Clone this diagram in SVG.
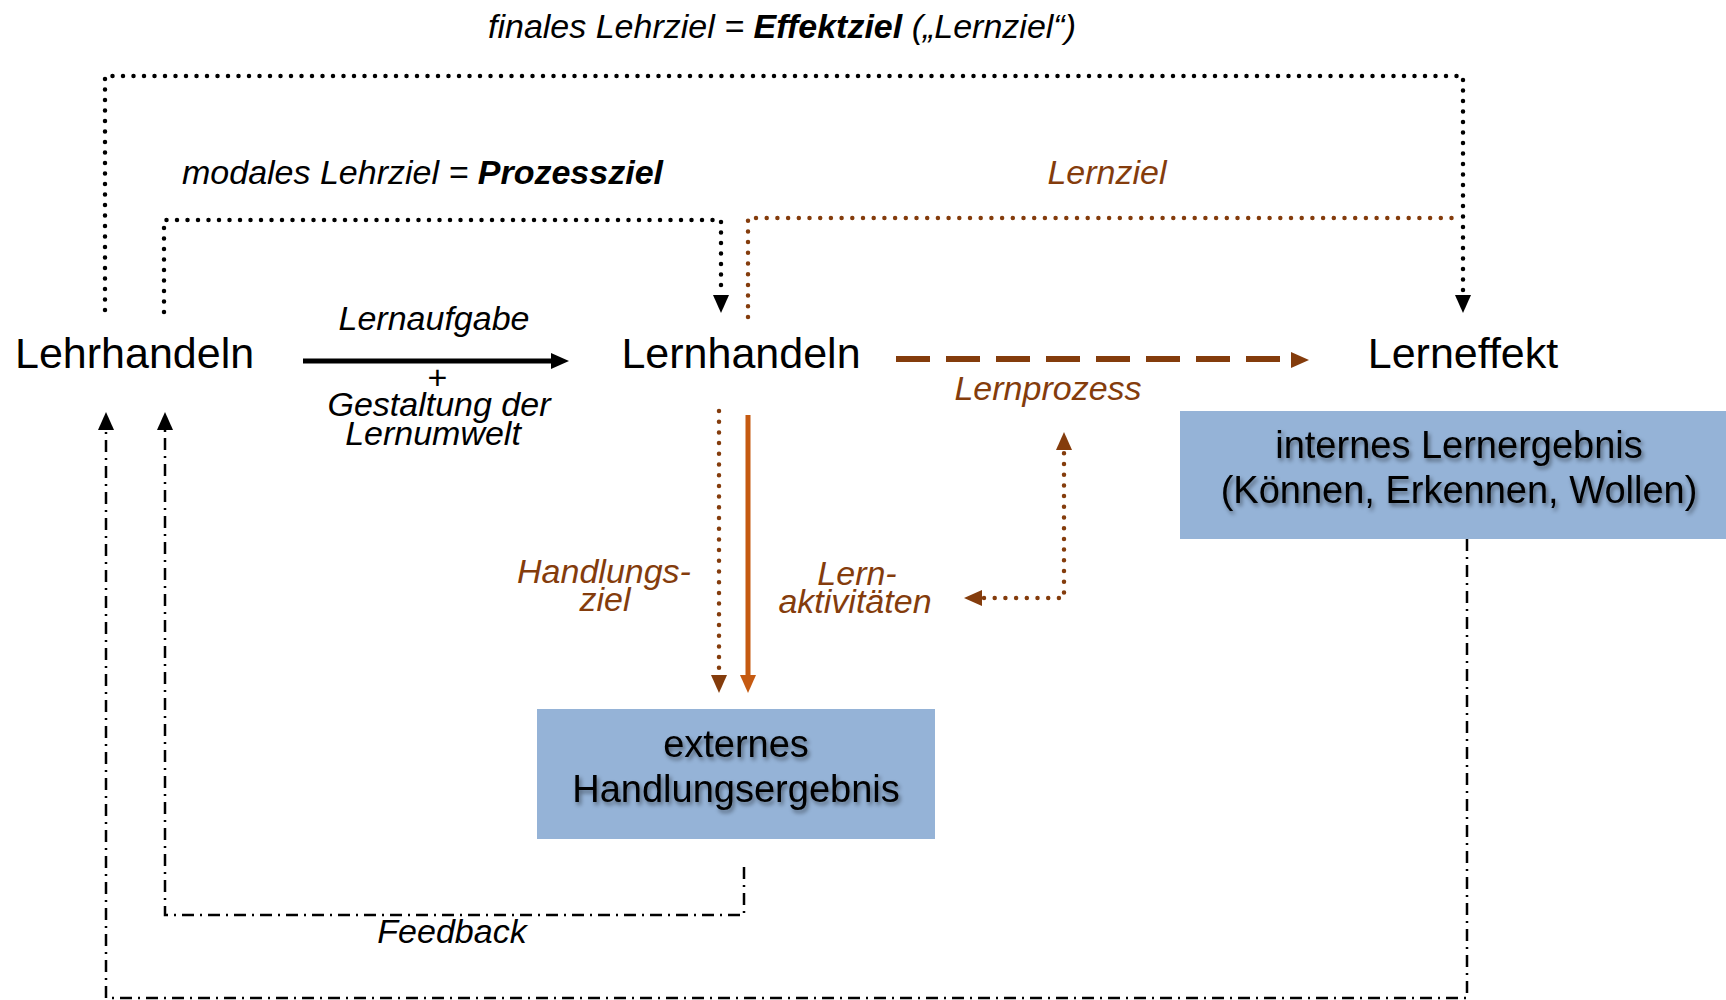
<svg xmlns="http://www.w3.org/2000/svg" width="1726" height="1000" viewBox="0 0 1726 1000">
<style>
text{font-family:"Liberation Sans",Arial,sans-serif}
.node{font-size:43px;fill:#000}
.lbl{font-size:34px;font-style:italic;fill:#000}
.br{fill:#843c0c}
.box{fill:#95b3d7}
.bt{font-size:38px;fill:#000;text-anchor:middle;filter:url(#sh)}
.dotk{fill:none;stroke:#000;stroke-width:4.5;stroke-linecap:round;stroke-dasharray:0 10.5}
.dotb{fill:none;stroke:#843c0c;stroke-width:4.5;stroke-linecap:round;stroke-dasharray:0 10.7}
.dd{fill:none;stroke:#000;stroke-width:2.5;stroke-dasharray:12 6 2 6}
</style>
<defs>
<filter id="sh" x="-10%" y="-30%" width="120%" height="160%">
<feDropShadow dx="2" dy="3" stdDeviation="2" flood-color="#000" flood-opacity="0.45"/>
</filter>
<marker id="ak" markerUnits="userSpaceOnUse" markerWidth="18" markerHeight="18" viewBox="0 0 18 18" refX="17" refY="9" orient="auto"><path d="M0,1 L18,9 L0,17 z" fill="#000"/></marker>
<marker id="ab" markerUnits="userSpaceOnUse" markerWidth="18" markerHeight="18" viewBox="0 0 18 18" refX="17" refY="9" orient="auto"><path d="M0,1 L18,9 L0,17 z" fill="#843c0c"/></marker>
<marker id="ao" markerUnits="userSpaceOnUse" markerWidth="18" markerHeight="18" viewBox="0 0 18 18" refX="17" refY="9" orient="auto"><path d="M0,1 L18,9 L0,17 z" fill="#c55a11"/></marker>
</defs>

<g id="connectors">
<path class="dotk" d="M105,310 V76 H1463 V294" />
<path d="M1463,292 V312" stroke="none" fill="none" marker-end="url(#ak)"/>
<path class="dotk" d="M164,312 V220 H721 V294"/>
<path d="M721,292 V312" stroke="none" fill="none" marker-end="url(#ak)"/>
<path class="dotb" d="M748,317 V218 H1455"/>
<path d="M303,361 H552" stroke="#000" stroke-width="5" fill="none"/>
<path d="M548,361 H568" stroke="none" fill="none" marker-end="url(#ak)"/>
<path d="M896,359 H1292" stroke="#843c0c" stroke-width="6" stroke-dasharray="34 16" fill="none"/>
<path d="M1288,360 H1308" stroke="none" fill="none" marker-end="url(#ab)"/>
<path class="dotb" d="M719,411 V674"/>
<path d="M719,672 V692" stroke="none" fill="none" marker-end="url(#ab)"/>
<path d="M748,415 V676" stroke="#c55a11" stroke-width="5" fill="none"/>
<path d="M748,672 V692" stroke="none" fill="none" marker-end="url(#ao)"/>
<path class="dotb" d="M984,598 H1064 V451"/>
<path d="M985,598 H965" stroke="none" fill="none" marker-end="url(#ab)"/>
<path d="M1064,453 V433" stroke="none" fill="none" marker-end="url(#ab)"/>
<path class="dd" d="M744,867 V915 H165 V430"/>
<path d="M165,433 V413" stroke="none" fill="none" marker-end="url(#ak)"/>
<path class="dd" d="M1467,539 V998 H106 V430"/>
<path d="M106,433 V413" stroke="none" fill="none" marker-end="url(#ak)"/>
</g>

<g id="title"><text class="lbl" x="782" y="38" text-anchor="middle">finales Lehrziel = <tspan font-weight="bold">Effektziel</tspan> („Lernziel“)</text></g>
<g id="modales"><text class="lbl" x="182" y="184">modales Lehrziel = <tspan font-weight="bold">Prozessziel</tspan></text></g>
<g id="lernziel"><text class="lbl br" x="1107" y="184" text-anchor="middle">Lernziel</text></g>

<g id="lehrhandeln"><text class="node" x="15" y="368">Lehrhandeln</text></g>
<g id="lernhandeln"><text class="node" x="741" y="368" text-anchor="middle">Lernhandeln</text></g>
<g id="lerneffekt"><text class="node" x="1463" y="368" text-anchor="middle">Lerneffekt</text></g>

<g id="lernaufgabe">
<text class="lbl" x="434" y="330" text-anchor="middle">Lernaufgabe</text>
<text class="lbl" x="437" y="389" text-anchor="middle" font-style="normal">+</text>
<text class="lbl" x="439" y="416" text-anchor="middle">Gestaltung der</text>
<text class="lbl" x="433" y="445" text-anchor="middle">Lernumwelt</text>
</g>
<g id="lernprozess"><text class="lbl br" x="1048" y="400" text-anchor="middle">Lernprozess</text></g>
<g id="handlungsziel">
<text class="lbl br" x="604" y="583" text-anchor="middle">Handlungs-</text>
<text class="lbl br" x="605" y="611" text-anchor="middle">ziel</text>
</g>
<g id="lernaktivitaeten">
<text class="lbl br" x="857" y="585" text-anchor="middle">Lern-</text>
<text class="lbl br" x="855" y="613" text-anchor="middle">aktivitäten</text>
</g>
<g id="feedback"><text class="lbl" x="452" y="943" text-anchor="middle">Feedback</text></g>

<g id="internes">
<rect class="box" x="1180" y="411" width="546" height="128"/>
<text class="bt" x="1459" y="458">internes Lernergebnis</text>
<text class="bt" x="1459" y="503">(Können, Erkennen, Wollen)</text>
</g>
<g id="externes">
<rect class="box" x="537" y="709" width="398" height="130"/>
<text class="bt" x="736" y="757">externes</text>
<text class="bt" x="736" y="802">Handlungsergebnis</text>
</g>
</svg>
